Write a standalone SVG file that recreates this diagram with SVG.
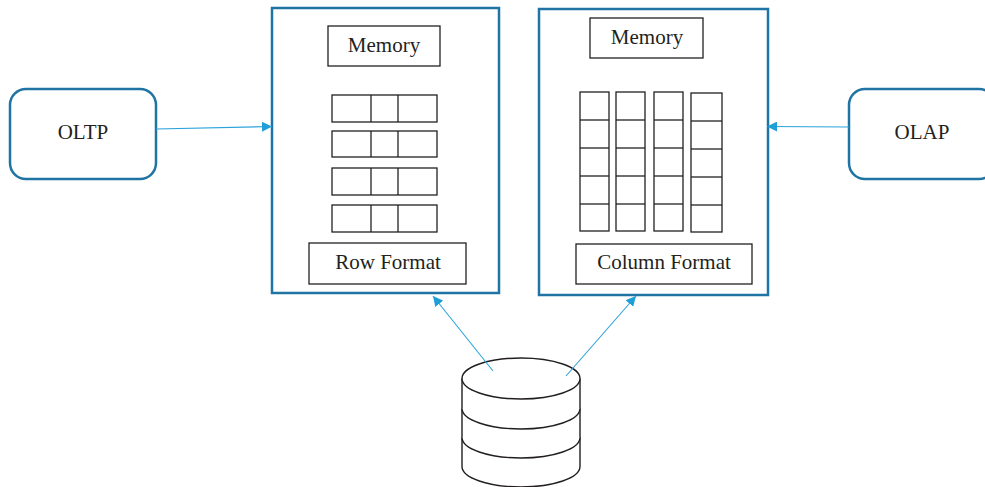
<svg xmlns="http://www.w3.org/2000/svg" width="985" height="487" viewBox="0 0 985 487">
<style>
.big{fill:#fff;stroke:#1f74a4;stroke-width:2.5}
.term{fill:#fff;stroke:#1f74a4;stroke-width:2.5}
.box{fill:#fff;stroke:#231f20;stroke-width:1.3}
.cell{fill:#fff;stroke:#231f20;stroke-width:1.3}
.lbl{font-family:"Liberation Serif","Times New Roman",serif;font-size:21px;fill:#231f20;text-anchor:middle}
.conn{stroke:#2aa2dc;stroke-width:1.1;fill:none}
.cyl{fill:#fff;stroke:#231f20;stroke-width:1.4}
</style>
<defs>
<marker id="ah" viewBox="0 0 10 10" refX="10" refY="5" markerWidth="10" markerHeight="10" markerUnits="userSpaceOnUse" orient="auto">
<path d="M0,0 L10,5 L0,10 Z" fill="#1f9ed8"/>
</marker>
</defs>
<rect width="985" height="487" fill="#fff"/>

<g id="oltp">
<rect class="term" x="10" y="89" width="146" height="90" rx="16"/>
<text class="lbl" x="83" y="139">OLTP</text>
</g>

<g id="olap">
<rect class="term" x="849" y="89" width="146" height="90" rx="16"/>
<text class="lbl" x="922" y="139">OLAP</text>
</g>

<g id="row-store">
<rect class="big" x="272" y="8" width="227" height="285"/>
<rect class="box" x="328" y="26" width="112" height="40"/>
<text class="lbl" x="384" y="52">Memory</text>
<g class="cell">
<rect x="332" y="95" width="105" height="27"/><line x1="371" y1="95" x2="371" y2="122"/><line x1="398" y1="95" x2="398" y2="122"/>
<rect x="332" y="131" width="105" height="26"/><line x1="371" y1="131" x2="371" y2="157"/><line x1="398" y1="131" x2="398" y2="157"/>
<rect x="332" y="168" width="105" height="27"/><line x1="371" y1="168" x2="371" y2="195"/><line x1="398" y1="168" x2="398" y2="195"/>
<rect x="332" y="205" width="105" height="27"/><line x1="371" y1="205" x2="371" y2="232"/><line x1="398" y1="205" x2="398" y2="232"/>
</g>
<rect class="box" x="309" y="243" width="157" height="41"/>
<text class="lbl" x="388" y="269">Row Format</text>
</g>

<g id="column-store">
<rect class="big" x="539" y="9" width="229" height="286"/>
<rect class="box" x="590" y="18" width="113" height="40"/>
<text class="lbl" x="647" y="44">Memory</text>
<g class="cell">
<rect x="580" y="92" width="29" height="139"/><line x1="580" y1="120" x2="609" y2="120"/><line x1="580" y1="148" x2="609" y2="148"/><line x1="580" y1="176" x2="609" y2="176"/><line x1="580" y1="204" x2="609" y2="204"/>
<rect x="616" y="92" width="29" height="139"/><line x1="616" y1="120" x2="645" y2="120"/><line x1="616" y1="148" x2="645" y2="148"/><line x1="616" y1="176" x2="645" y2="176"/><line x1="616" y1="204" x2="645" y2="204"/>
<rect x="654" y="92" width="29" height="139"/><line x1="654" y1="120" x2="683" y2="120"/><line x1="654" y1="148" x2="683" y2="148"/><line x1="654" y1="176" x2="683" y2="176"/><line x1="654" y1="204" x2="683" y2="204"/>
<rect x="691" y="93" width="31" height="139"/><line x1="691" y1="121" x2="722" y2="121"/><line x1="691" y1="149" x2="722" y2="149"/><line x1="691" y1="177" x2="722" y2="177"/><line x1="691" y1="205" x2="722" y2="205"/>
</g>
<rect class="box" x="576" y="244" width="176" height="40"/>
<text class="lbl" x="664" y="269" font-size="22">Column Format</text>
</g>

<g id="database">
<path class="cyl" d="M462,378.5 V466.5 A59,20.5 0 0 0 580,466.5 V378.5"/>
<ellipse class="cyl" cx="521" cy="378.5" rx="59" ry="20.5"/>
<path class="cyl" fill="none" d="M462,408.5 A59,20.5 0 0 0 580,408.5"/>
<path class="cyl" fill="none" d="M462,437.5 A59,20.5 0 0 0 580,437.5"/>
</g>

<g id="connectors">
<line class="conn" x1="156" y1="129" x2="272" y2="126.5" marker-end="url(#ah)"/>
<line class="conn" x1="849" y1="127" x2="767" y2="126.5" marker-end="url(#ah)"/>
<line class="conn" x1="493" y1="371" x2="433" y2="296" marker-end="url(#ah)"/>
<line class="conn" x1="566" y1="376" x2="636" y2="296" marker-end="url(#ah)"/>
</g>
</svg>
